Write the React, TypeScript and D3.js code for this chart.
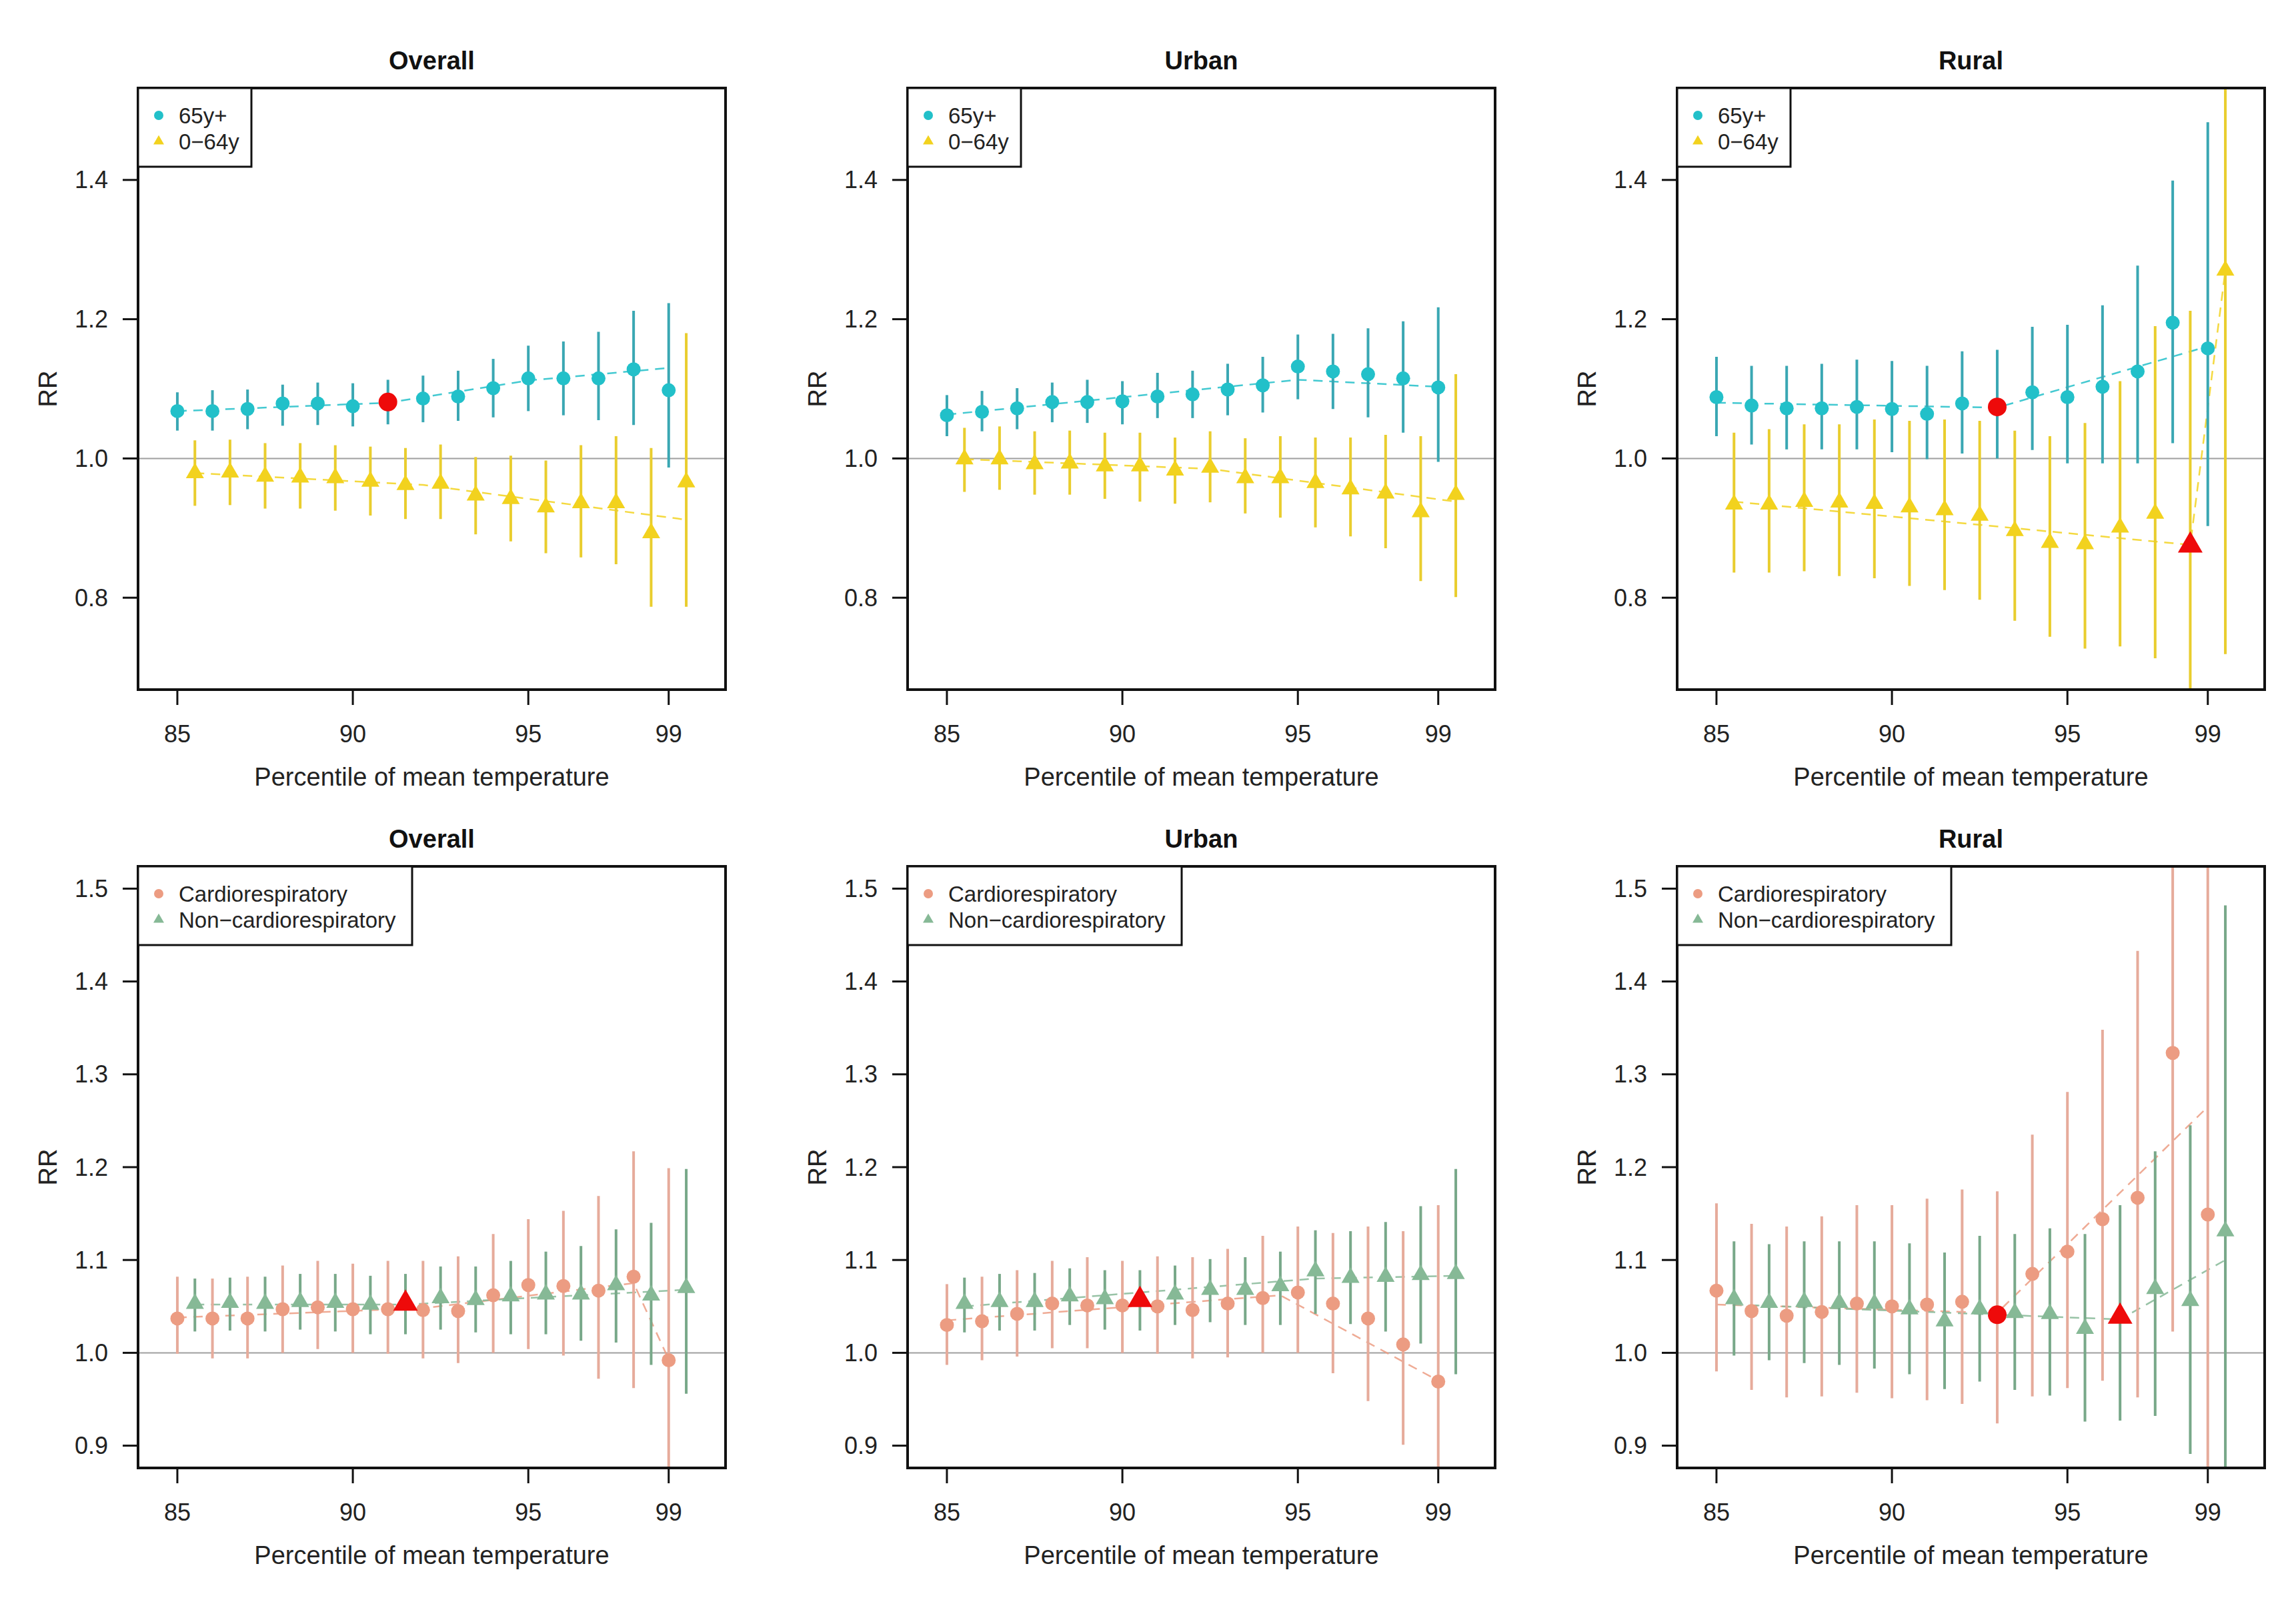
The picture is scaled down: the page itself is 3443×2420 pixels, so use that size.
import React, { useEffect } from 'react';
import * as d3 from 'd3';

// percentiles: first series sits on the integer, second is nudged by half a step
const PCT_A = [85, 86, 87, 88, 89, 90, 91, 92, 93, 94, 95, 96, 97, 98, 99];
const PCT_B = [85.5, 86.5, 87.5, 88.5, 89.5, 90.5, 91.5, 92.5, 93.5, 94.5, 95.5, 96.5, 97.5, 98.5, 99.5];
const X_TICKS = [85, 90, 95, 99];
const Y_TICKS_AGE = [0.8, 1.0, 1.2, 1.4];
const Y_TICKS_CAUSE = [0.9, 1.0, 1.1, 1.2, 1.3, 1.4, 1.5];
const PANEL_TITLES = ['Overall', 'Urban', 'Rural'];
const AGE_LABELS = ['65y+', '0\u221264y'];
const CAUSE_LABELS = ['Cardiorespiratory', 'Non\u2212cardiorespiratory'];

// [RR, lower, upper]
const OVERALL_65 = [[1.068, 1.040, 1.095], [1.068, 1.040, 1.098], [1.071, 1.042, 1.099], [1.079, 1.047, 1.106], [1.079, 1.048, 1.109], [1.075, 1.046, 1.108], [1.081, 1.049, 1.113], [1.086, 1.052, 1.119], [1.089, 1.054, 1.126], [1.101, 1.059, 1.143], [1.115, 1.068, 1.162], [1.115, 1.062, 1.168], [1.115, 1.055, 1.182], [1.128, 1.048, 1.212], [1.098, 0.987, 1.223]];
const OVERALL_064 = [[0.979, 0.932, 1.026], [0.980, 0.933, 1.027], [0.974, 0.928, 1.022], [0.973, 0.928, 1.022], [0.972, 0.925, 1.019], [0.967, 0.918, 1.017], [0.962, 0.913, 1.015], [0.964, 0.913, 1.020], [0.947, 0.891, 1.002], [0.942, 0.881, 1.004], [0.930, 0.864, 0.997], [0.936, 0.858, 1.019], [0.936, 0.848, 1.032], [0.893, 0.787, 1.015], [0.966, 0.787, 1.180]];
const URBAN_65 = [[1.062, 1.032, 1.091], [1.067, 1.039, 1.097], [1.072, 1.042, 1.101], [1.081, 1.052, 1.109], [1.081, 1.051, 1.113], [1.082, 1.049, 1.111], [1.089, 1.058, 1.123], [1.092, 1.058, 1.126], [1.099, 1.062, 1.136], [1.105, 1.066, 1.146], [1.132, 1.085, 1.178], [1.125, 1.071, 1.179], [1.121, 1.059, 1.187], [1.115, 1.037, 1.197], [1.102, 0.995, 1.217]];
const URBAN_064 = [[0.999, 0.952, 1.044], [0.999, 0.955, 1.046], [0.992, 0.948, 1.039], [0.993, 0.948, 1.040], [0.989, 0.942, 1.037], [0.989, 0.938, 1.037], [0.983, 0.935, 1.030], [0.987, 0.937, 1.039], [0.972, 0.921, 1.029], [0.972, 0.915, 1.032], [0.965, 0.901, 1.030], [0.956, 0.888, 1.030], [0.950, 0.871, 1.034], [0.923, 0.824, 1.032], [0.948, 0.801, 1.121]];
const RURAL_65 = [[1.088, 1.032, 1.146], [1.076, 1.020, 1.133], [1.072, 1.013, 1.133], [1.072, 1.013, 1.136], [1.074, 1.013, 1.142], [1.071, 1.009, 1.140], [1.064, 0.999, 1.133], [1.079, 1.007, 1.154], [1.074, 1.000, 1.156], [1.095, 1.012, 1.189], [1.088, 0.993, 1.192], [1.103, 0.993, 1.220], [1.125, 0.993, 1.277], [1.195, 1.022, 1.399], [1.158, 0.903, 1.483]];
const RURAL_064 = [[0.934, 0.836, 1.037], [0.934, 0.836, 1.042], [0.938, 0.838, 1.049], [0.937, 0.831, 1.049], [0.935, 0.828, 1.056], [0.930, 0.817, 1.054], [0.926, 0.811, 1.056], [0.918, 0.797, 1.054], [0.896, 0.767, 1.040], [0.879, 0.744, 1.032], [0.877, 0.727, 1.051], [0.901, 0.730, 1.111], [0.921, 0.713, 1.190], [0.875, 0.620, 1.212], [1.270, 0.719, 1.600]];

const OVERALL_CARDIO = [[1.037, 0.999, 1.082], [1.037, 0.994, 1.080], [1.037, 0.994, 1.082], [1.047, 1.000, 1.094], [1.049, 1.004, 1.099], [1.047, 1.000, 1.096], [1.047, 0.999, 1.099], [1.046, 0.994, 1.099], [1.045, 0.989, 1.104], [1.062, 1.000, 1.128], [1.073, 1.004, 1.144], [1.072, 0.997, 1.153], [1.067, 0.972, 1.169], [1.082, 0.962, 1.217], [0.992, 0.850, 1.199]];
const OVERALL_NONCARDIO = [[1.053, 1.023, 1.080], [1.054, 1.024, 1.081], [1.053, 1.023, 1.082], [1.055, 1.025, 1.085], [1.054, 1.023, 1.085], [1.052, 1.020, 1.083], [1.053, 1.020, 1.085], [1.059, 1.025, 1.093], [1.057, 1.022, 1.093], [1.061, 1.020, 1.099], [1.063, 1.020, 1.109], [1.063, 1.013, 1.115], [1.073, 1.011, 1.133], [1.062, 0.987, 1.140], [1.070, 0.956, 1.198]];
const URBAN_CARDIO = [[1.030, 0.987, 1.074], [1.034, 0.992, 1.082], [1.042, 0.996, 1.089], [1.053, 1.005, 1.099], [1.051, 1.005, 1.103], [1.051, 1.000, 1.099], [1.050, 0.999, 1.104], [1.046, 0.994, 1.103], [1.053, 0.995, 1.112], [1.059, 1.000, 1.126], [1.065, 1.000, 1.136], [1.053, 0.978, 1.129], [1.037, 0.948, 1.136], [1.009, 0.901, 1.131], [0.969, 0.850, 1.159]];
const URBAN_NONCARDIO = [[1.053, 1.022, 1.081], [1.055, 1.024, 1.085], [1.055, 1.024, 1.086], [1.061, 1.030, 1.091], [1.058, 1.025, 1.089], [1.057, 1.024, 1.089], [1.063, 1.030, 1.094], [1.068, 1.033, 1.101], [1.068, 1.030, 1.103], [1.072, 1.030, 1.109], [1.088, 1.042, 1.132], [1.081, 1.031, 1.131], [1.082, 1.023, 1.141], [1.084, 1.010, 1.158], [1.085, 0.977, 1.198]];
const RURAL_CARDIO = [[1.067, 0.980, 1.161], [1.045, 0.960, 1.139], [1.040, 0.952, 1.136], [1.044, 0.953, 1.147], [1.053, 0.957, 1.159], [1.050, 0.951, 1.159], [1.052, 0.949, 1.166], [1.055, 0.945, 1.176], [1.041, 0.924, 1.174], [1.085, 0.953, 1.235], [1.109, 0.962, 1.281], [1.144, 0.970, 1.348], [1.167, 0.952, 1.433], [1.323, 1.023, 1.600], [1.149, 0.800, 1.600]];
const RURAL_NONCARDIO = [[1.058, 0.997, 1.120], [1.054, 0.992, 1.117], [1.055, 0.989, 1.120], [1.054, 0.987, 1.120], [1.053, 0.983, 1.120], [1.047, 0.977, 1.118], [1.034, 0.961, 1.108], [1.047, 0.969, 1.126], [1.043, 0.960, 1.128], [1.042, 0.954, 1.134], [1.026, 0.926, 1.128], [1.039, 0.927, 1.159], [1.069, 0.932, 1.217], [1.056, 0.891, 1.245], [1.131, 0.800, 1.482]];

// dashed fitted lines, [percentile, RR] knots
const OVERALL_65_FIT = [[85, 1.068], [91, 1.080], [95, 1.112], [99, 1.130]];
const OVERALL_064_FIT = [[85.5, 0.979], [92, 0.962], [99.5, 0.912]];
const URBAN_65_FIT = [[85, 1.063], [95, 1.113], [99, 1.103]];
const URBAN_064_FIT = [[85.5, 0.999], [92.5, 0.985], [99.5, 0.938]];
const RURAL_65_FIT = [[85, 1.080], [93, 1.073], [99, 1.161]];
const RURAL_064_FIT = [[85.5, 0.938], [98.5, 0.876], [99.5, 1.270]];
const OVERALL_CARDIO_FIT = [[85, 1.038], [92, 1.048], [98, 1.075], [99, 0.993]];
const OVERALL_NONCARDIO_FIT = [[85.5, 1.052], [91.5, 1.052], [99.5, 1.068]];
const URBAN_CARDIO_FIT = [[85, 1.035], [94.5, 1.062], [99, 0.970]];
const URBAN_NONCARDIO_FIT = [[85.5, 1.050], [95.5, 1.080], [99.5, 1.083]];
const RURAL_CARDIO_FIT = [[85, 1.052], [93, 1.043], [99, 1.265]];
const RURAL_NONCARDIO_FIT = [[85.5, 1.052], [96.5, 1.036], [99.5, 1.100]];

const COLORS = {
  cyan: { pt: '#22c0c9', bar: '#3aa7b3' },
  yellow: { pt: '#f2d21e', bar: '#e9cd2e' },
  salmon: { pt: '#ec9c82', bar: '#e6ab9b' },
  green: { pt: '#86b996', bar: '#78a889' },
};
const RED = '#ee0a0a';
const FONT = '"Liberation Sans", Arial, Helvetica, sans-serif';

const PANEL_LEFT = [207, 1361, 2515];
const ROW_TOP = [132, 1299];
const W = 881;
const H = 902;

// R style axis range: data limits padded by 4%
const pad = (lim: number[]) => {
  const d = (lim[1] - lim[0]) * 0.04;
  return [lim[0] - d, lim[1] + d];
};

const tri = (side: number) => d3.symbol().type(d3.symbolTriangle).size((Math.sqrt(3) / 4) * side * side)() || '';

type Series = { x: number[]; data: number[][]; fit: number[][]; color: { pt: string; bar: string }; shape: 'circle' | 'triangle'; red: number };

function Panel({ left, top, title, series, yLim, yTicks, labels, legendW, id }: {
  left: number; top: number; title: string; series: Series[]; yLim: number[]; yTicks: number[]; labels: string[]; legendW: number; id: string;
}) {
  const x = d3.scaleLinear().domain(pad([84.5, 100])).range([0, W]);
  const y = d3.scaleLinear().domain(pad(yLim)).range([H, 0]);
  const line = d3.line<number[]>().x(d => x(d[0])).y(d => y(d[1]));
  const fmt = d3.format('.1f');

  return (
    <g transform={`translate(${left},${top})`}>
      <defs>
        <clipPath id={id}><rect x={0} y={0} width={W} height={H} /></clipPath>
      </defs>
      <line x1={0} x2={W} y1={y(1)} y2={y(1)} stroke="#a0a0a0" strokeWidth={2} />
      <g clipPath={`url(#${id})`}>
        {series.map((s, si) => (
          <path key={`f${si}`} d={line(s.fit) || ''} fill="none" stroke={s.color.pt} strokeWidth={2.5} strokeDasharray="14 10" opacity={0.85} />
        ))}
        {series.map((s, si) => s.data.map((d, i) => (
          <line key={`b${si}-${i}`} x1={x(s.x[i])} x2={x(s.x[i])} y1={y(d[1])} y2={y(d[2])} stroke={s.color.bar} strokeWidth={4} />
        )))}
        {series.map((s, si) => s.data.map((d, i) => {
          const isRed = i === s.red;
          const fill = isRed ? RED : s.color.pt;
          return s.shape === 'circle'
            ? <circle key={`p${si}-${i}`} cx={x(s.x[i])} cy={y(d[0])} r={isRed ? 14 : 10.5} fill={fill} />
            : <path key={`p${si}-${i}`} transform={`translate(${x(s.x[i])},${y(d[0])})`} d={tri(isRed ? 37 : 27)} fill={fill} />;
        }))}
      </g>
      <rect x={0} y={0} width={W} height={H} fill="none" stroke="#111" strokeWidth={4} />

      {/* legend */}
      <rect x={0} y={0} width={legendW} height={118} fill="white" stroke="#111" strokeWidth={3} />
      {series.map((s, si) => (
        <g key={`l${si}`} transform={`translate(31,${41 + si * 39})`}>
          {s.shape === 'circle'
            ? <circle r={7} fill={s.color.pt} />
            : <path d={tri(16)} fill={s.color.pt} />}
          <text x={30} dominantBaseline="central" fontSize={33} fontFamily={FONT} fill="#222">{labels[si]}</text>
        </g>
      ))}

      {/* axes */}
      {yTicks.map(t => (
        <g key={`y${t}`}>
          <line x1={-23} x2={0} y1={y(t)} y2={y(t)} stroke="#111" strokeWidth={3} />
          <text x={-45} y={y(t)} textAnchor="end" dominantBaseline="central" fontSize={36} fontFamily={FONT} fill="#222">{fmt(t)}</text>
        </g>
      ))}
      {X_TICKS.map(t => (
        <g key={`x${t}`}>
          <line x1={x(t)} x2={x(t)} y1={H} y2={H + 23} stroke="#111" strokeWidth={3} />
          <text x={x(t)} y={H + 66} textAnchor="middle" dominantBaseline="central" fontSize={36} fontFamily={FONT} fill="#222">{t}</text>
        </g>
      ))}
      <text x={W / 2} y={-28} textAnchor="middle" fontSize={38} fontWeight={700} fontFamily={FONT} fill="#111">{title}</text>
      <text x={W / 2} y={H + 131} textAnchor="middle" dominantBaseline="central" fontSize={38} fontFamily={FONT} fill="#222">Percentile of mean temperature</text>
      <text transform={`translate(-135,${H / 2}) rotate(-90)`} textAnchor="middle" dominantBaseline="central" fontSize={38} fontFamily={FONT} fill="#222">RR</text>
    </g>
  );
}

export default function App() {
  useEffect(() => {
    document.body.style.margin = '0';
    document.body.style.overflow = 'hidden';
  }, []);

  const ageRows: Series[][] = [
    [
      { x: PCT_A, data: OVERALL_65, fit: OVERALL_65_FIT, color: COLORS.cyan, shape: 'circle', red: 6 },
      { x: PCT_B, data: OVERALL_064, fit: OVERALL_064_FIT, color: COLORS.yellow, shape: 'triangle', red: -1 },
    ],
    [
      { x: PCT_A, data: URBAN_65, fit: URBAN_65_FIT, color: COLORS.cyan, shape: 'circle', red: -1 },
      { x: PCT_B, data: URBAN_064, fit: URBAN_064_FIT, color: COLORS.yellow, shape: 'triangle', red: -1 },
    ],
    [
      { x: PCT_A, data: RURAL_65, fit: RURAL_65_FIT, color: COLORS.cyan, shape: 'circle', red: 8 },
      { x: PCT_B, data: RURAL_064, fit: RURAL_064_FIT, color: COLORS.yellow, shape: 'triangle', red: 13 },
    ],
  ];
  const causeRows: Series[][] = [
    [
      { x: PCT_A, data: OVERALL_CARDIO, fit: OVERALL_CARDIO_FIT, color: COLORS.salmon, shape: 'circle', red: -1 },
      { x: PCT_B, data: OVERALL_NONCARDIO, fit: OVERALL_NONCARDIO_FIT, color: COLORS.green, shape: 'triangle', red: 6 },
    ],
    [
      { x: PCT_A, data: URBAN_CARDIO, fit: URBAN_CARDIO_FIT, color: COLORS.salmon, shape: 'circle', red: -1 },
      { x: PCT_B, data: URBAN_NONCARDIO, fit: URBAN_NONCARDIO_FIT, color: COLORS.green, shape: 'triangle', red: 5 },
    ],
    [
      { x: PCT_A, data: RURAL_CARDIO, fit: RURAL_CARDIO_FIT, color: COLORS.salmon, shape: 'circle', red: 8 },
      { x: PCT_B, data: RURAL_NONCARDIO, fit: RURAL_NONCARDIO_FIT, color: COLORS.green, shape: 'triangle', red: 11 },
    ],
  ];

  return (
    <svg width={3443} height={2420} style={{ display: 'block', background: 'white' }}>
      <rect width={3443} height={2420} fill="white" />
      {PANEL_TITLES.map((t, i) => (
        <Panel key={`a${i}`} id={`clipA${i}`} left={PANEL_LEFT[i]} top={ROW_TOP[0]} title={t} series={ageRows[i]}
          yLim={[0.7, 1.5]} yTicks={Y_TICKS_AGE} labels={AGE_LABELS} legendW={170} />
      ))}
      {PANEL_TITLES.map((t, i) => (
        <Panel key={`c${i}`} id={`clipC${i}`} left={PANEL_LEFT[i]} top={ROW_TOP[1]} title={t} series={causeRows[i]}
          yLim={[0.9, 1.5]} yTicks={Y_TICKS_CAUSE} labels={CAUSE_LABELS} legendW={411} />
      ))}
    </svg>
  );
}
